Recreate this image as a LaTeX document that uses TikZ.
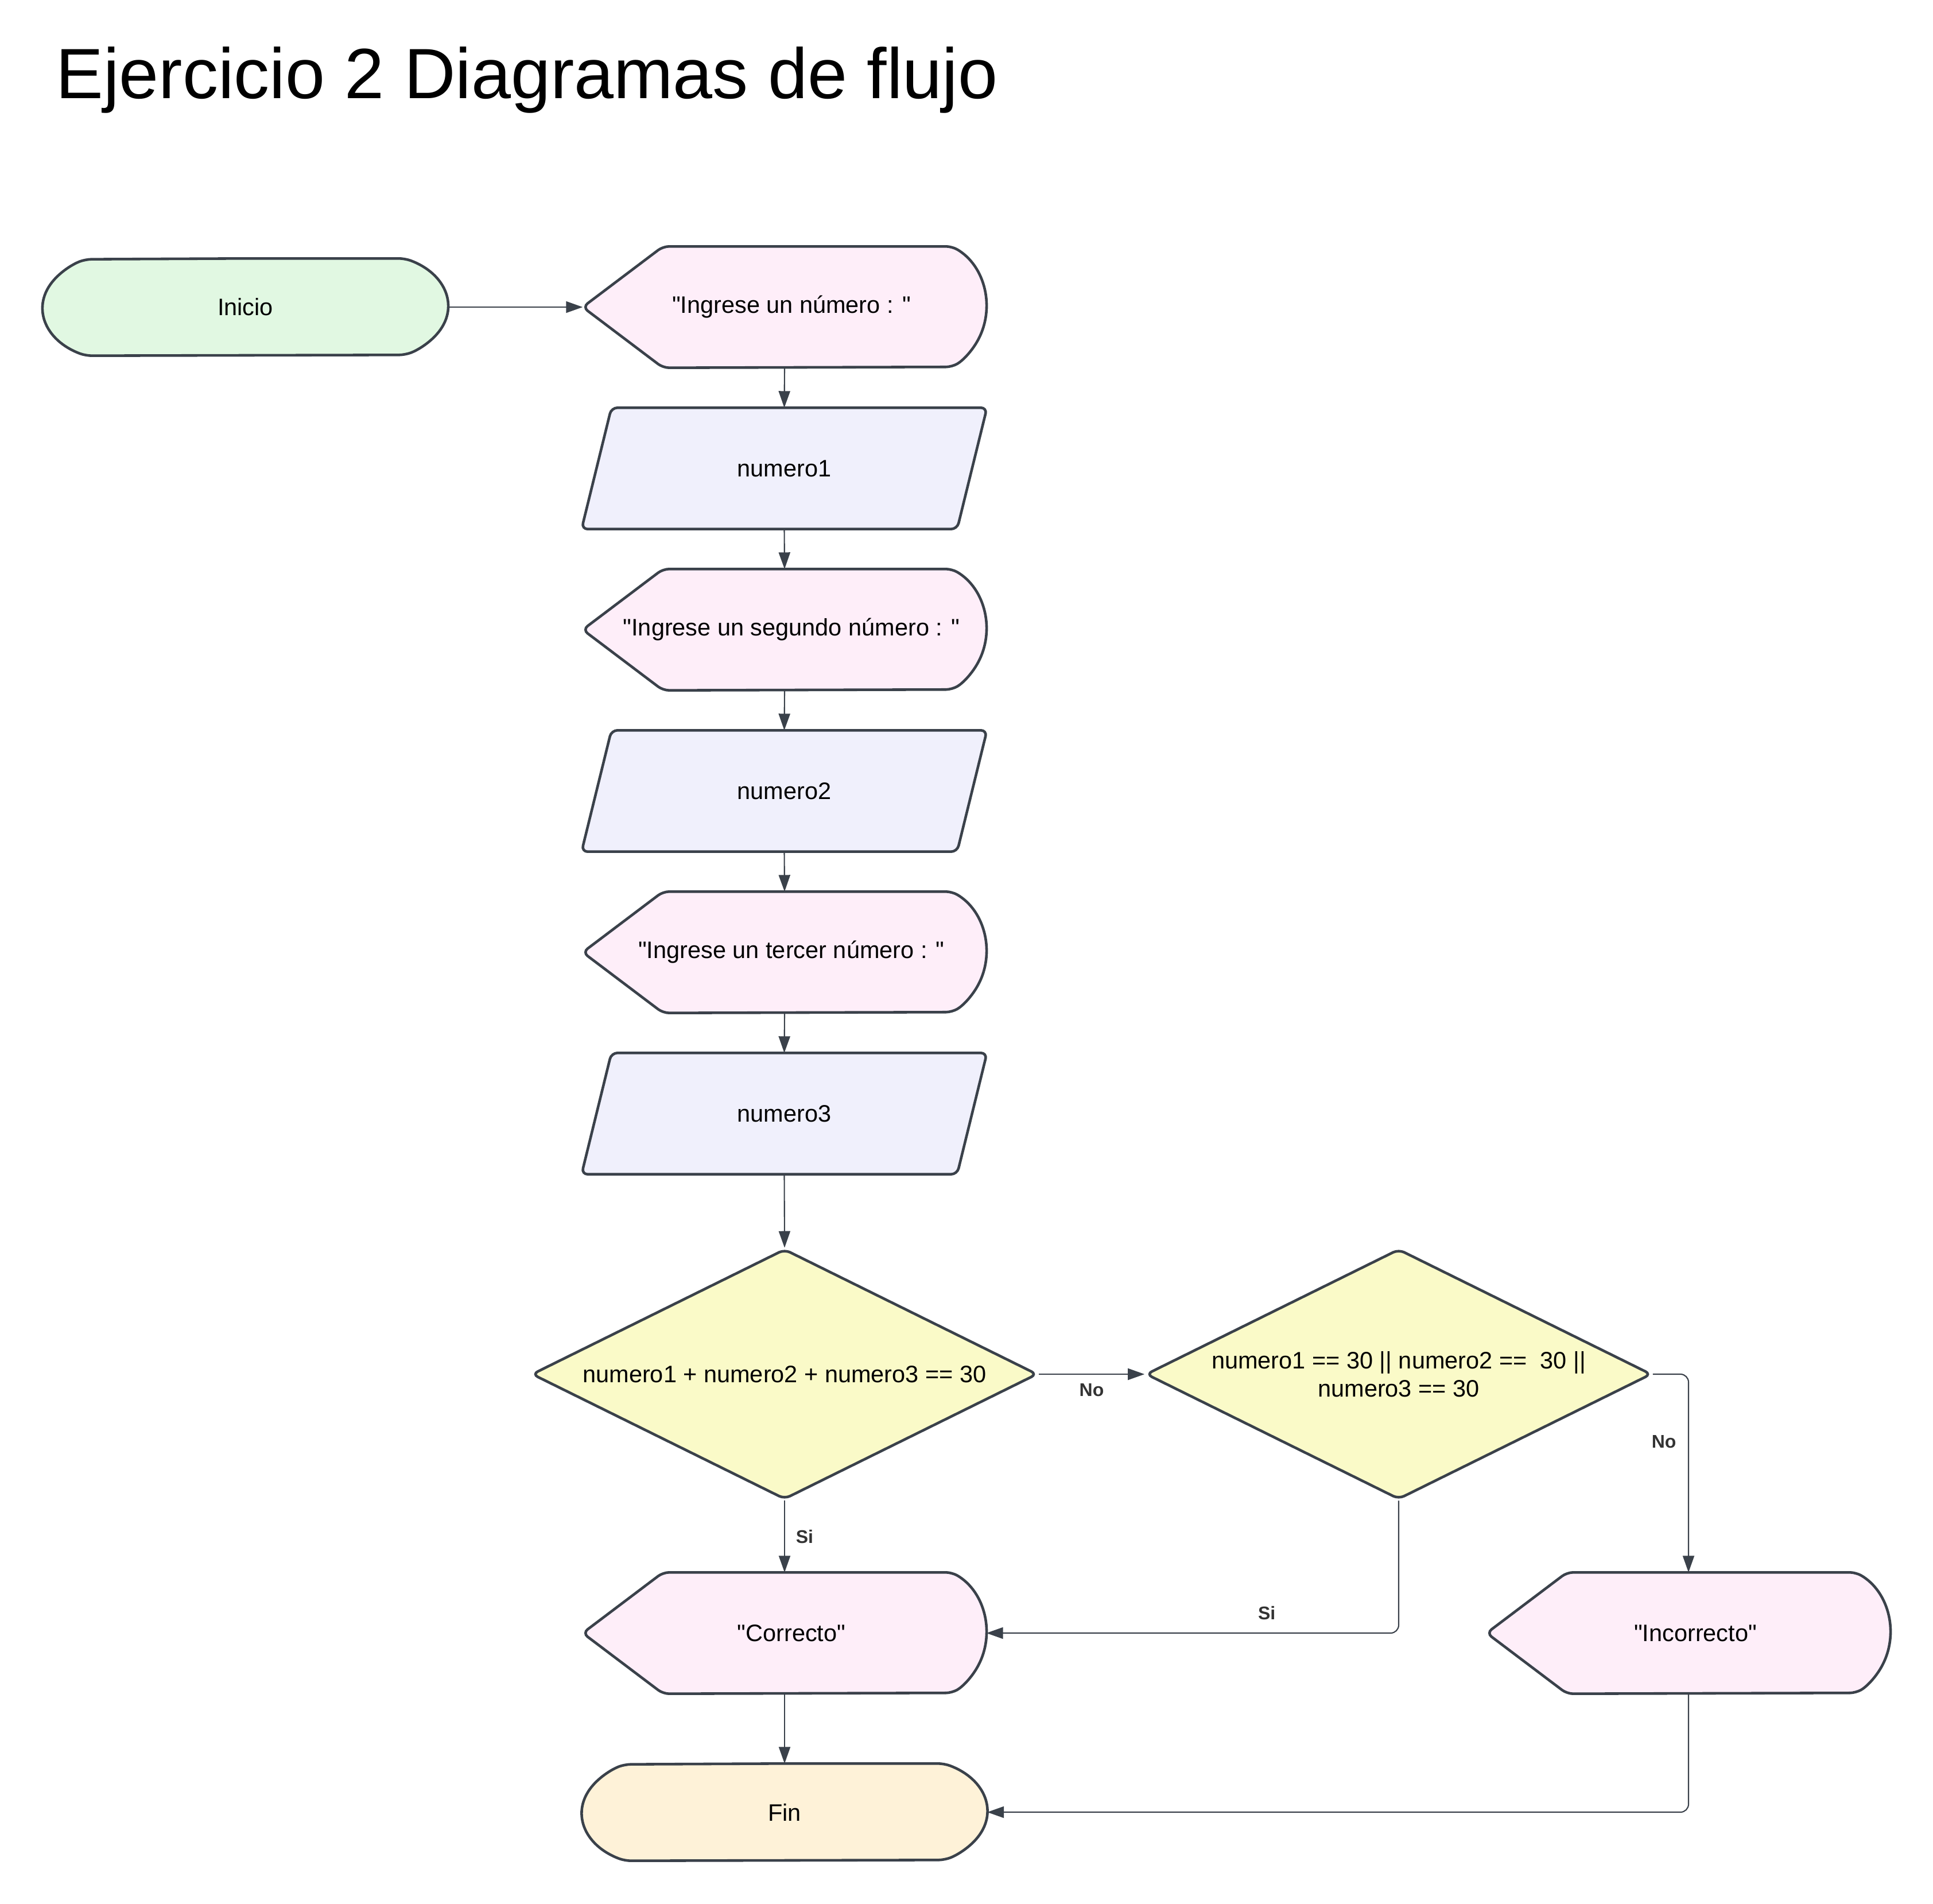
\documentclass[tikz,border=0pt]{standalone}
\usepackage{fontspec}
\setmainfont{Liberation Sans}[Ligatures=TeXOff]
\usetikzlibrary{positioning,arrows.meta,calc,shapes.geometric,backgrounds}
\definecolor{edge}{HTML}{3A414A}
\definecolor{startfill}{HTML}{E1F8E2}
\definecolor{msgfill}{HTML}{FEEEF9}
\definecolor{readfill}{HTML}{F0F0FC}
\definecolor{testfill}{HTML}{FAFAC8}
\definecolor{endfill}{HTML}{FEF2D8}
\definecolor{taggray}{HTML}{333333}

\begin{document}
\begin{tikzpicture}[>={Triangle[length=2.9mm,width=2mm]},
  font=\fontsize{11.8}{14}\selectfont,
  line/.style={draw=edge,line width=0.6pt,->},
  outline/.style={draw=edge,line width=1.3pt,rounded corners=3pt},
  termnode/.style={minimum width=7.05cm,minimum height=1.68cm,inner sep=0pt},
  msgnode/.style={minimum width=7.02cm,minimum height=2.1cm,inner sep=0pt,execute at begin node=\hspace*{0.24cm}},
  readnode/.style={minimum width=7.05cm,minimum height=2.1cm,inner sep=0pt},
  testbox/.style={outline,fill=testfill,diamond,aspect=2,inner sep=0pt,minimum width=8.81cm,minimum height=4.36cm,align=center},
  tag/.style={font=\fontsize{9.1}{11}\selectfont\bfseries,text=taggray}]
\useasboundingbox (0,0) rectangle (33.68,-33.17);

\node[anchor=base west,inner sep=0pt,font=\fontsize{35.3}{42}\selectfont] (title) at (0.97,-1.72) {Ejercicio 2 Diagramas de flujo};

% main column
\node[termnode] (inicio) at (4.275,-5.35) {Inicio};
\node[msgnode] (msg1) at (13.67,-5.35) {"Ingrese un número : "};
\node[readnode] (num1) at (13.665,-8.16) {numero1};
\node[msgnode] (msg2) at (13.67,-10.97) {"Ingrese un segundo número : "};
\node[readnode] (num2) at (13.665,-13.78) {numero2};
\node[msgnode] (msg3) at (13.67,-16.59) {"Ingrese un tercer número : "};
\node[readnode] (num3) at (13.665,-19.40) {numero3};

% decisions
\node[testbox] (test1) at (13.67,-23.94) {numero1 + numero2 + numero3 == 30};
\node[testbox] (test2) at (24.37,-23.94) {numero1 == 30 || numero2 == ~30 ||\\numero3 == 30};

% outputs
\node[msgnode] (ok) at (13.67,-28.45) {"Correcto"};
\node[msgnode] (bad) at (29.42,-28.45) {"Incorrecto"};
\node[termnode] (fin) at (13.67,-31.57) {Fin};

% outlines behind the text
\begin{scope}[on background layer]
\foreach \n/\c in {inicio/startfill,fin/endfill}
  \draw[outline,fill=\c] (\n.north) -- ($(\n.north east)+(-0.75,0)$)
    arc[start angle=60,end angle=-60,x radius=1.5,y radius=0.97]
    -- ($(\n.south west)+(0.75,0)$)
    arc[start angle=240,end angle=120,x radius=1.5,y radius=0.97] -- cycle;
\foreach \n in {msg1,msg2,msg3,ok,bad}
  \draw[outline,fill=msgfill] ($(\n.north west)+(1.4,0)$) -- ($(\n.north east)+(-0.6,0)$)
    arc[start angle=60,end angle=-60,x radius=1.2,y radius=1.212]
    -- ($(\n.south west)+(1.4,0)$) -- (\n.west) -- cycle;
\foreach \n in {num1,num2,num3}
  \draw[outline,fill=readfill] (\n.south west) -- ($(\n.north west)+(0.52,0)$)
    -- (\n.north east) -- ($(\n.south east)+(-0.52,0)$) -- cycle;
\end{scope}

\draw[line] (inicio.east) -- (msg1.west);
\draw[line] (msg1.south) -- (num1.north);
\draw[line] (num1.south) -- (msg2.north);
\draw[line] (msg2.south) -- (num2.north);
\draw[line] (num2.south) -- (msg3.north);
\draw[line] (msg3.south) -- (num3.north);
\draw[line] (num3.south) -- (test1.north);
\draw[line] (test1.east) -- node[tag,below=1pt]{No} (test2.west);
\draw[line] (test1.south) -- node[tag,right=2pt]{Si} (ok.north);
\draw[line,rounded corners=4pt] (test2.east) -| node[tag,left=2.5pt,pos=0.67]{No} (bad.north);
\draw[line,rounded corners=4pt] (test2.south) |- node[tag,above=3pt,pos=0.66]{Si} (ok.east);
\draw[line] (ok.south) -- (fin.north);
\draw[line,rounded corners=4pt] (bad.south) |- (fin.east);
\end{tikzpicture}
\end{document}
